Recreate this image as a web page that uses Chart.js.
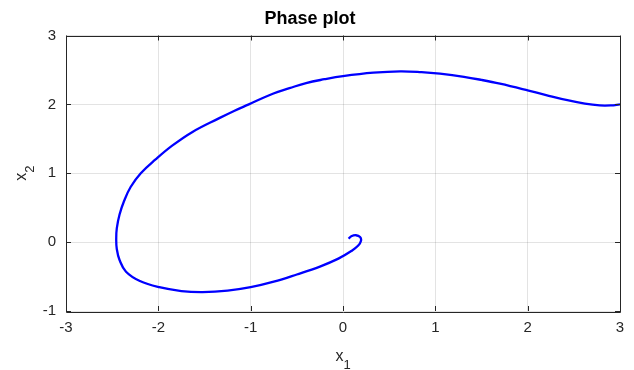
<!DOCTYPE html>
<html>
<head>
<meta charset="utf-8">
<script src="https://cdn.jsdelivr.net/npm/chart.js@4.4.1/dist/chart.umd.min.js"></script>
<style>
html,body{margin:0;padding:0;background:#fff;}
#wrap{width:634px;height:370px;position:relative;}
</style>
</head>
<body>
<div id="wrap"><canvas id="c" width="634" height="370"></canvas></div>
<script>
// Trajectory (x1, x2), from the inner hook outward
const x1Values = [0.06, 0.09, 0.14, 0.185, 0.195, 0.165, 0.09, -0.05, -0.25, -0.50, -0.75, -1.00, -1.25, -1.52, -1.75, -1.99, -2.20, -2.35, -2.42, -2.45, -2.456, -2.45, -2.42, -2.37, -2.30, -2.19, -2.03, -1.85, -1.63, -1.34, -1.18, -1.02, -0.76, -0.58, -0.40, -0.20, 0.00, 0.33, 0.62, 0.85, 1.05, 1.31, 1.50, 1.70, 2.01, 2.20, 2.43, 2.62, 2.78, 2.90, 3.00];
const x2Values = [0.05, 0.085, 0.10, 0.075, 0.02, -0.05, -0.13, -0.24, -0.355, -0.47, -0.575, -0.655, -0.705, -0.725, -0.71, -0.655, -0.565, -0.43, -0.26, -0.10, 0.05, 0.20, 0.40, 0.60, 0.80, 1.00, 1.20, 1.40, 1.60, 1.80, 1.905, 2.00, 2.155, 2.235, 2.31, 2.365, 2.41, 2.46, 2.48, 2.468, 2.445, 2.40, 2.355, 2.30, 2.20, 2.135, 2.06, 2.01, 1.985, 1.985, 2.00];
const xTicks = [-3, -2, -1, 0, 1, 2, 3];
const yTicks = [-1, 0, 1, 2, 3];
const titleText = 'Phase plot';
const xLabel = ['x', '1'];
const yLabel = ['x', '2'];

const points = x1Values.map((v, i) => ({x: v, y: x2Values[i]}));
const axisColor = '#262626';
const FONT = '"Liberation Sans", Arial, Helvetica, sans-serif';

const boxPlugin = {
  id: 'boxPlugin',
  afterDraw(chart) {
    const {ctx, chartArea: a, scales} = chart;
    ctx.save();
    ctx.strokeStyle = axisColor;
    ctx.lineWidth = 1;
    ctx.beginPath();
    ctx.rect(Math.round(a.left) + 0.5, Math.round(a.top) + 0.5, Math.round(a.right - a.left), Math.round(a.bottom - a.top));
    ctx.stroke();
    // inward ticks
    ctx.beginPath();
    xTicks.forEach(t => {
      const px = Math.round(scales.x.getPixelForValue(t)) + 0.5;
      ctx.moveTo(px, a.bottom); ctx.lineTo(px, a.bottom - 5);
      ctx.moveTo(px, a.top); ctx.lineTo(px, a.top + 5);
    });
    yTicks.forEach(t => {
      const py = Math.round(scales.y.getPixelForValue(t)) + 0.5;
      ctx.moveTo(a.left, py); ctx.lineTo(a.left + 5, py);
      ctx.moveTo(a.right, py); ctx.lineTo(a.right - 5, py);
    });
    ctx.stroke();
    // axis labels with subscripts
    ctx.fillStyle = axisColor;
    ctx.textBaseline = 'alphabetic';
    ctx.textAlign = 'left';
    const cx = (a.left + a.right) / 2;
    ctx.font = '16px ' + FONT;
    const w1 = ctx.measureText(xLabel[0]).width;
    ctx.font = '13px ' + FONT;
    const w2 = ctx.measureText(xLabel[1]).width;
    let sx = cx - (w1 + w2) / 2;
    ctx.font = '16px ' + FONT;
    ctx.fillText(xLabel[0], sx, 361);
    ctx.font = '13px ' + FONT;
    ctx.fillText(xLabel[1], sx + w1, 369);
    // y label rotated
    ctx.save();
    const cy = (a.top + a.bottom) / 2;
    ctx.translate(26, cy);
    ctx.rotate(-Math.PI / 2);
    ctx.font = '16px ' + FONT;
    sx = -(w1 + w2) / 2;
    ctx.fillText(yLabel[0], sx, 0);
    ctx.font = '13px ' + FONT;
    ctx.fillText(yLabel[1], sx + w1, 8);
    ctx.restore();
    ctx.restore();
  }
};

new Chart(document.getElementById('c'), {
  type: 'scatter',
  data: {
    datasets: [{
      data: points,
      showLine: true,
      borderColor: '#0000ff',
      backgroundColor: '#0000ff',
      borderWidth: 2.3,
      pointRadius: 0,
      tension: 0.4,
      fill: false
    }]
  },
  options: {
    responsive: false,
    animation: false,
    layout: {padding: {left: 0, right: 14, top: 0, bottom: 0}},
    plugins: {
      legend: {display: false},
      tooltip: {enabled: false},
      title: {
        display: true,
        text: titleText,
        color: '#000',
        font: {family: FONT, size: 18, weight: 'bold', lineHeight: 1.2},
        padding: {top: 8.7, bottom: 5.2}
      }
    },
    scales: {
      x: {
        type: 'linear',
        min: -3, max: 3,
        afterBuildTicks: s => { s.ticks = xTicks.map(v => ({value: v})); },
        afterFit: s => { s.height = 59; },
        grid: {color: 'rgba(38,38,38,0.13)', drawTicks: false, lineWidth: 1},
        border: {display: false},
        ticks: {color: axisColor, font: {family: FONT, size: 15}, padding: 8, maxRotation: 0}
      },
      y: {
        type: 'linear',
        min: -1, max: 3,
        afterBuildTicks: s => { s.ticks = yTicks.map(v => ({value: v})); },
        afterFit: s => { s.width = 66; },
        grid: {color: 'rgba(38,38,38,0.13)', drawTicks: false, lineWidth: 1},
        border: {display: false},
        ticks: {color: axisColor, font: {family: FONT, size: 15}, padding: 10}
      }
    }
  },
  plugins: [boxPlugin]
});
</script>
</body>
</html>
